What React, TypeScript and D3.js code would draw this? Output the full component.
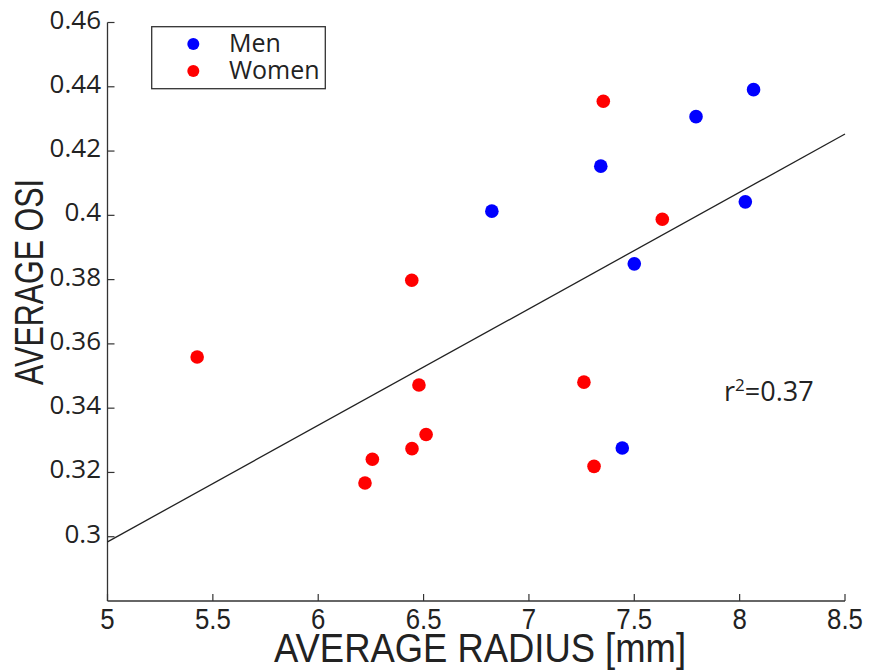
import React from 'react';
import * as d3 from 'd3';

// values
const menRadius = [6.824, 7.341, 7.793, 8.066, 8.027, 7.5, 7.443];
const menOsi = [0.4013, 0.4153, 0.4307, 0.4391, 0.4042, 0.3849, 0.3276];
const womenRadius = [7.353, 7.633, 6.444, 5.4255, 6.478, 7.261, 6.512, 6.445, 6.257, 6.222, 7.309];
const womenOsi = [0.4355, 0.3988, 0.3798, 0.3559, 0.3472, 0.3481, 0.3318, 0.3274, 0.3241, 0.3167, 0.3219];
const fitX = [5, 8.5];
const fitY = [0.2984, 0.4253];
const xTicks = [5, 5.5, 6, 6.5, 7, 7.5, 8, 8.5];
const yTicks = [0.3, 0.32, 0.34, 0.36, 0.38, 0.4, 0.42, 0.44, 0.46];
const xTickLabels = ['5', '5.5', '6', '6.5', '7', '7.5', '8', '8.5'];
const yTickLabels = ['0.3', '0.32', '0.34', '0.36', '0.38', '0.4', '0.42', '0.44', '0.46'];

const W = 871;
const H = 670;
const ink = '#222';
const sans = '"Open Sans", sans-serif';
const narrow = '"Liberation Sans", Arial, sans-serif';

export default function App() {
  const x = d3.scaleLinear().domain([5, 8.5]).range([107.5, 845]);
  const y = d3.scaleLinear().domain([0.28, 0.46]).range([601, 22.5]);

  const fitLine = d3.line<number>()
    .x(d => x(d))
    .y((d, i) => y(fitY[i]));

  const men = menRadius.map((r, i) => ({ r, o: menOsi[i] }));
  const women = womenRadius.map((r, i) => ({ r, o: womenOsi[i] }));

  return (
    <svg width={W} height={H} style={{ position: 'absolute', left: 0, top: 0, background: '#fff' }}>
      {/* axes */}
      <line x1={x(5)} x2={x(5)} y1={y(0.28)} y2={y(0.46)} stroke="#333" strokeWidth={1.3} />
      <line x1={x(5)} x2={x(8.5)} y1={y(0.28)} y2={y(0.28)} stroke="#333" strokeWidth={1.3} />

      {xTicks.map((t, i) => (
        <g key={'xt' + i}>
          <line x1={x(t)} x2={x(t)} y1={y(0.28)} y2={y(0.28) - 7} stroke="#333" strokeWidth={1.2} />
          <text
            transform={`translate(${x(t)},629) scale(0.86,1)`}
            textAnchor="middle"
            fontFamily={narrow}
            fontSize={30}
            fill={ink}
          >
            {xTickLabels[i]}
          </text>
        </g>
      ))}

      {yTicks.map((t, i) => (
        <g key={'yt' + i}>
          <line x1={x(5)} x2={x(5) + 7} y1={y(t)} y2={y(t)} stroke="#333" strokeWidth={1.2} />
          <text
            x={101}
            y={y(t) + 6}
            textAnchor="end"
            fontFamily={sans}
            fontSize={26}
            fill={ink}
          >
            {yTickLabels[i]}
          </text>
        </g>
      ))}

      {/* axis titles */}
      <text
        x={480}
        y={662}
        textAnchor="middle"
        fontFamily={narrow}
        fontSize={40}
        fill={ink}
        textLength={412}
        lengthAdjust="spacingAndGlyphs"
      >
        AVERAGE RADIUS [mm]
      </text>
      <text
        transform="translate(43,282) rotate(-90)"
        textAnchor="middle"
        fontFamily={narrow}
        fontSize={41}
        fill={ink}
        textLength={206}
        lengthAdjust="spacingAndGlyphs"
      >
        AVERAGE OSI
      </text>

      {/* regression line */}
      <path d={fitLine(fitX) || ''} fill="none" stroke={ink} strokeWidth={1.3} />

      {/* points */}
      {men.map((d, i) => (
        <circle key={'m' + i} cx={x(d.r)} cy={y(d.o)} r={6.8} fill="#0000ff" />
      ))}
      {women.map((d, i) => (
        <circle key={'w' + i} cx={x(d.r)} cy={y(d.o)} r={6.8} fill="#ff0000" />
      ))}

      {/* r² annotation */}
      <text x={724} y={401} fontFamily={sans} fontSize={27} fill={ink}>
        r<tspan fontSize={17} dy={-10}>2</tspan><tspan dy={10}>=0.37</tspan>
      </text>

      {/* legend */}
      <rect x={151.7} y={26.7} width={173.6} height={62} fill="#fff" stroke="#333" strokeWidth={1.3} />
      <circle cx={193.3} cy={44} r={6} fill="#0000ff" />
      <circle cx={193.3} cy={71} r={6} fill="#ff0000" />
      <text x={229} y={52} fontFamily={sans} fontSize={25} fill={ink}>Men</text>
      <text x={229} y={79} fontFamily={sans} fontSize={25} fill={ink}>Women</text>
    </svg>
  );
}
